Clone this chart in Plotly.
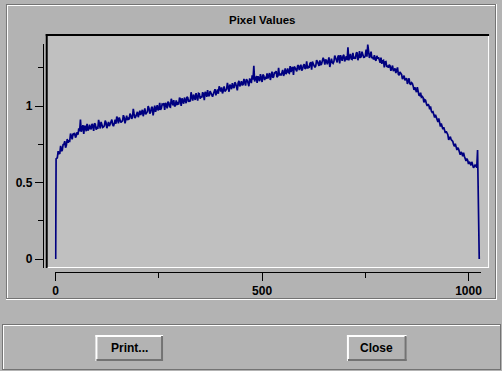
import plotly.graph_objects as go

W, H = 502, 371

# ---------------- data ----------------
# samples read at x = 4, 8, 12, ... 1020
pixel_values = [
    0.662, 0.688, 0.740, 0.712, 0.750, 0.728, 0.784, 0.771, 0.820, 0.782, 0.815, 0.793, 0.828, 0.854, 0.912, 0.858,
    0.817, 0.866, 0.883, 0.847, 0.854, 0.883, 0.838, 0.881, 0.865, 0.909, 0.853, 0.882, 0.864, 0.905, 0.855, 0.896,
    0.880, 0.911, 0.868, 0.910, 0.931, 0.886, 0.910, 0.899, 0.940, 0.886, 0.937, 0.918, 0.950, 0.916, 0.981, 0.921,
    0.954, 0.927, 0.970, 0.964, 0.933, 0.984, 0.958, 0.999, 0.951, 0.988, 0.939, 1.002, 0.991, 0.972, 1.021, 0.986,
    1.009, 0.975, 1.011, 1.028, 0.995, 1.047, 1.005, 0.998, 1.037, 1.018, 1.055, 1.001, 1.038, 1.055, 1.018, 1.054,
    1.035, 1.090, 1.035, 1.063, 1.084, 1.035, 1.079, 1.064, 1.090, 1.038, 1.084, 1.104, 1.064, 1.085, 1.061, 1.103,
    1.070, 1.108, 1.128, 1.094, 1.082, 1.128, 1.102, 1.151, 1.093, 1.131, 1.149, 1.117, 1.147, 1.102, 1.164, 1.149,
    1.138, 1.177, 1.133, 1.168, 1.129, 1.170, 1.200, 1.262, 1.186, 1.151, 1.179, 1.208, 1.157, 1.199, 1.184, 1.213,
    1.205, 1.170, 1.225, 1.190, 1.213, 1.189, 1.250, 1.212, 1.233, 1.196, 1.246, 1.222, 1.219, 1.260, 1.247, 1.203,
    1.249, 1.226, 1.267, 1.253, 1.231, 1.265, 1.243, 1.292, 1.255, 1.279, 1.238, 1.275, 1.253, 1.300, 1.266, 1.298,
    1.274, 1.315, 1.271, 1.296, 1.312, 1.255, 1.309, 1.278, 1.330, 1.295, 1.325, 1.279, 1.315, 1.327, 1.291, 1.325,
    1.384, 1.318, 1.308, 1.347, 1.321, 1.345, 1.299, 1.359, 1.322, 1.337, 1.319, 1.368, 1.402, 1.314, 1.355, 1.320,
    1.333, 1.296, 1.310, 1.288, 1.316, 1.295, 1.253, 1.290, 1.264, 1.270, 1.230, 1.264, 1.242, 1.215, 1.252, 1.201,
    1.211, 1.176, 1.199, 1.180, 1.144, 1.181, 1.142, 1.147, 1.105, 1.100, 1.123, 1.071, 1.087, 1.062, 1.023, 1.038,
    1.000, 1.004, 0.998, 0.959, 0.933, 0.942, 0.908, 0.919, 0.866, 0.871, 0.862, 0.824, 0.824, 0.779, 0.799, 0.771,
    0.747, 0.754, 0.713, 0.719, 0.681, 0.691, 0.695, 0.652, 0.657, 0.621, 0.625, 0.635, 0.597, 0.614, 0.597,
]
# samples read at x = 6, 10, 14, ... 1018
pixel_mid_values = [
    0.705, 0.690, 0.705, 0.748, 0.770, 0.745, 0.760, 0.770, 0.805, 0.820, 0.825, 0.805, 0.812, 0.835, 0.832, 0.875,
    0.870, 0.835, 0.840, 0.878, 0.848, 0.872, 0.886, 0.845, 0.850, 0.880, 0.896, 0.860, 0.871, 0.892, 0.870, 0.868,
    0.902, 0.878, 0.885, 0.884, 0.915, 0.925, 0.892, 0.903, 0.925, 0.906, 0.908, 0.912, 0.940, 0.925, 0.948, 0.930,
    0.962, 0.942, 0.941, 0.975, 0.952, 0.945, 0.962, 0.985, 0.960, 0.995, 0.968, 0.962, 1.005, 0.978, 0.975, 1.012,
    1.018, 1.020, 0.985, 1.022, 0.992, 1.030, 1.038, 1.003, 1.008, 1.010, 1.045, 1.050, 1.015, 1.030, 1.060, 1.028,
    1.030, 1.060, 1.075, 1.040, 1.058, 1.082, 1.048, 1.055, 1.078, 1.092, 1.060, 1.070, 1.098, 1.072, 1.078, 1.110,
    1.085, 1.080, 1.115, 1.122, 1.100, 1.095, 1.110, 1.130, 1.140, 1.110, 1.125, 1.155, 1.125, 1.150, 1.128, 1.162,
    1.140, 1.160, 1.175, 1.150, 1.180, 1.150, 1.172, 1.160, 1.190, 1.195, 1.162, 1.172, 1.205, 1.170, 1.178, 1.180,
    1.215, 1.212, 1.185, 1.222, 1.228, 1.195, 1.200, 1.200, 1.236, 1.212, 1.208, 1.245, 1.215, 1.222, 1.255, 1.258,
    1.232, 1.262, 1.235, 1.270, 1.240, 1.274, 1.248, 1.245, 1.250, 1.285, 1.290, 1.258, 1.262, 1.290, 1.262, 1.268,
    1.298, 1.300, 1.305, 1.272, 1.318, 1.290, 1.285, 1.290, 1.315, 1.285, 1.330, 1.332, 1.295, 1.335, 1.305, 1.300,
    1.298, 1.340, 1.305, 1.310, 1.308, 1.350, 1.318, 1.315, 1.355, 1.318, 1.328, 1.322, 1.352, 1.330, 1.312, 1.305,
    1.305, 1.328, 1.318, 1.282, 1.276, 1.298, 1.288, 1.255, 1.250, 1.262, 1.255, 1.228, 1.245, 1.232, 1.208, 1.222,
    1.205, 1.196, 1.168, 1.182, 1.170, 1.146, 1.152, 1.130, 1.122, 1.090, 1.095, 1.068, 1.058, 1.055, 1.042, 1.015,
    1.012, 0.978, 0.968, 0.962, 0.925, 0.930, 0.896, 0.898, 0.885, 0.848, 0.848, 0.835, 0.812, 0.786, 0.780, 0.768,
    0.737, 0.735, 0.728, 0.700, 0.700, 0.672, 0.672, 0.640, 0.645, 0.636, 0.612, 0.620, 0.603, 0.610,
]
head_x = [0, 1]
head_y = [0.0, 0.655]
tail_x = [1022, 1024, 1026]
tail_y = [0.712, 0.355, 0.0]

body = sorted(
    [(4 + 4 * i, v) for i, v in enumerate(pixel_values)]
    + [(6 + 4 * i, v) for i, v in enumerate(pixel_mid_values)]
)
pixel_index = head_x + [p[0] for p in body] + tail_x
pixel_y = head_y + [p[1] for p in body] + tail_y

title_text = "Pixel Values"
button_labels = ["Print...", "Close"]

# ---------------- styling / geometry ----------------
BG = "#b3b3b3"
BOX = "#c0c0c0"
DARK = "#737373"
LIGHT = "#ffffff"
LINE = "#000080"
FONT = "Liberation Sans, Arial, sans-serif"


def P(x):
    return x / W


def Q(y):
    return 1 - y / H


shapes = []


def rect(x0, y0, x1, y1, color):
    shapes.append(dict(type="rect", xref="paper", yref="paper",
                       x0=P(x0), x1=P(x1), y0=Q(y1), y1=Q(y0),
                       fillcolor=color, line=dict(width=0), layer="below"))


# outer etched frame
rect(4, 4, 498, 5, DARK)
rect(4, 4, 5, 300, DARK)
rect(5, 5, 497, 6, LIGHT)
rect(5, 5, 6, 299, LIGHT)
rect(5, 298, 497, 299, DARK)
rect(496, 5, 497, 299, DARK)
rect(4, 299, 498, 300, LIGHT)
rect(497, 4, 498, 300, LIGHT)

# plot box (sunken)
rect(44, 34, 490, 268, BOX)
rect(44, 34, 490, 36, "#000000")
rect(44, 34, 46, 268, "#000000")
rect(489, 36, 490, 268, LIGHT)
rect(46, 267, 490, 268, LIGHT)

# bottom button panel
rect(0, 324, 502, 325, DARK)
rect(1, 325, 501, 326, LIGHT)
rect(0, 324, 1, 370, DARK)
rect(1, 325, 2, 369, LIGHT)
rect(0, 369, 502, 370, DARK)
rect(501, 324, 502, 370, DARK)

# buttons
buttons = [(94, 335, 162, 361), (347, 335, 407, 361)]
for (bx0, by0, bx1, by1) in buttons:
    rect(bx0, by0, bx1, by0 + 2, LIGHT)
    rect(bx0, by0, bx0 + 2, by1, LIGHT)
    rect(bx0 + 1, by1 - 2, bx1, by1, DARK)
    rect(bx1 - 2, by0 + 1, bx1, by1, DARK)

annotations = [
    dict(text="<b>%s</b>" % title_text, x=P(262.5), y=Q(20), xref="paper", yref="paper",
         showarrow=False, xanchor="center", yanchor="middle",
         font=dict(family=FONT, size=11.5, color="#000000")),
]
for lab, (bx0, by0, bx1, by1) in zip(button_labels, buttons):
    annotations.append(dict(text="<b>%s</b>" % lab, x=P((bx0 + bx1) / 2), y=Q(348),
                            xref="paper", yref="paper", showarrow=False,
                            xanchor="center", yanchor="middle",
                            font=dict(family=FONT, size=12, color="#000000")))

# axis geometry (pixels)
x0_px, x_end_px = 53, 482
x_scale = 0.4153  # px per unit
x_range = [-(54 - x0_px) / x_scale, (x_end_px - 54) / x_scale]
y_top_px, y_bot_px = 44, 268
y_zero_px, y_scale = 259, 153.0
y_range = [(y_zero_px - y_bot_px) / y_scale, (y_zero_px - y_top_px) / y_scale]

fig = go.Figure()
fig.add_trace(go.Scatter(x=pixel_index, y=pixel_y, mode="lines",
                         line=dict(color=LINE, width=1.7), hoverinfo="skip",
                         showlegend=False))

tickfont = dict(family=FONT, size=12, color="#000000", weight="bold")

fig.update_layout(
    width=W, height=H,
    margin=dict(l=0, r=0, t=0, b=0, pad=0),
    paper_bgcolor=BG,
    plot_bgcolor=BOX,
    shapes=shapes,
    annotations=annotations,
    showlegend=False,
    xaxis=dict(domain=[P(x0_px), P(x_end_px)], range=x_range,
               anchor="free", position=Q(272), side="bottom",
               showline=True, linecolor="#000000", linewidth=1,
               showgrid=False, zeroline=False,
               ticks="outside", ticklen=8, tickwidth=1, tickcolor="#000000",
               tick0=0, dtick=500, tickfont=tickfont,
               minor=dict(ticks="outside", ticklen=5, tickwidth=1, tickcolor="#000000",
                          tick0=0, dtick=250, showgrid=False),
               fixedrange=True),
    yaxis=dict(domain=[Q(y_bot_px), Q(y_top_px)], range=y_range,
               anchor="free", position=P(41), side="left",
               showline=True, linecolor="#000000", linewidth=1,
               showgrid=False, zeroline=False,
               ticks="outside", ticklen=8, tickwidth=1, tickcolor="#000000",
               tick0=0, dtick=0.5, tickfont=tickfont,
               minor=dict(ticks="outside", ticklen=5, tickwidth=1, tickcolor="#000000",
                          tick0=0, dtick=0.25, showgrid=False),
               fixedrange=True),
)

fig.write_html("out.html", config=dict(displayModeBar=False, staticPlot=True))
